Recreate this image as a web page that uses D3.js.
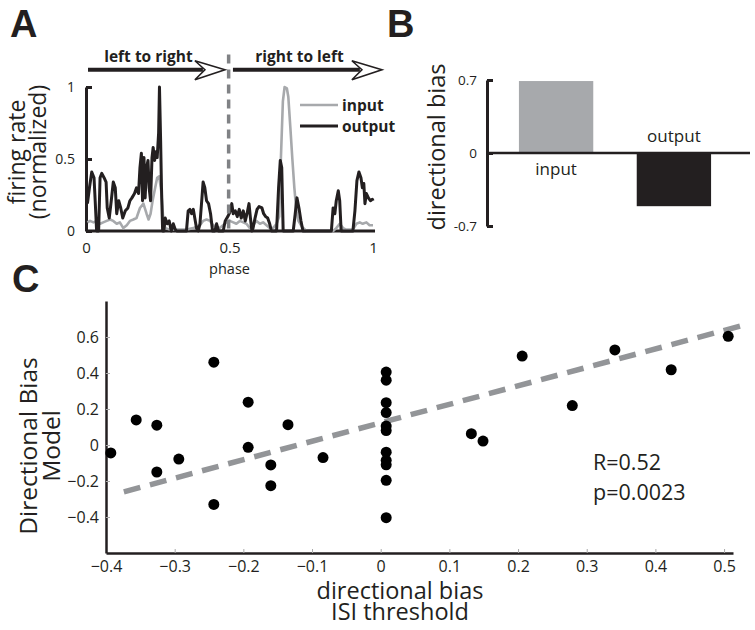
<!DOCTYPE html>
<html><head><meta charset="utf-8">
<script src="https://cdn.jsdelivr.net/npm/d3@7"></script>
<style>
body{margin:0;background:#fff;}
svg{display:block;font-family:"Open Sans",sans-serif;}
</style></head>
<body><svg id="c" width="755" height="630"></svg>
<script>
// ---------- Panel A data ----------
const phaseTicks = [0, 0.5, 1];
const rateTicks = [0, 0.5, 1];
const phaseOut = [0.005,0.012,0.020,0.028,0.032,0.037,0.044,0.049,0.055,0.063,
0.070,0.074,0.081,0.088,0.095,0.102,0.107,0.114,0.121,0.128,
0.137,0.146,0.153,0.160,0.169,0.176,0.183,0.188,0.193,0.197,
0.202,0.206,0.211,0.216,0.220,0.225,0.230,0.234,0.239,0.244,
0.248,0.253,0.256,0.260,0.263,0.267,0.271,0.276,0.283,0.290,
0.297,0.304,0.311,0.316,0.350,0.356,0.362,0.368,0.374,0.379,
0.385,0.391,0.397,0.404,0.408,0.414,0.420,0.427,0.434,0.441,
0.449,0.455,0.462,0.478,0.485,0.494,0.501,0.508,0.513,0.520,
0.527,0.534,0.541,0.548,0.555,0.561,0.568,0.573,0.578,0.582,
0.589,0.596,0.603,0.613,0.619,0.626,0.633,0.640,0.646,0.664,
0.671,0.677,0.682,0.687,0.722,0.729,0.735,0.742,0.749,0.756,
0.855,0.861,0.867,0.872,0.879,0.884,0.889,0.930,0.937,0.944,
0.951,0.958,0.963,0.968,0.972,0.977,0.984,0.991,0.998,1.0];
const outputRate = [0.19,0.30,0.41,0.37,0.21,0.0,0.0,0.37,0.40,0.37,
0.34,0.16,0.09,0.21,0.34,0.30,0.12,0.21,0.16,0.09,
0.14,0.16,0.21,0.23,0.26,0.30,0.26,0.44,0.54,0.21,
0.51,0.23,0.44,0.49,0.30,0.21,0.51,0.58,0.49,0.55,
0.51,0.68,1.00,0.63,0.30,0.00,0.00,0.09,0.05,0.07,
0.00,0.05,0.01,0.00,0.00,0.14,0.15,0.12,0.15,0.09,
0.02,0.00,0.05,0.23,0.34,0.30,0.21,0.19,0.12,0.00,
0.00,0.05,0.00,0.00,0.07,0.10,0.13,0.19,0.12,0.14,
0.10,0.15,0.09,0.14,0.07,0.12,0.19,0.09,0.00,0.02,
0.09,0.15,0.17,0.16,0.12,0.10,0.09,0.05,0.00,0.00,
0.30,0.49,0.44,0.00,0.00,0.12,0.23,0.16,0.07,0.00,
0.00,0.16,0.12,0.21,0.28,0.21,0.00,0.00,0.14,0.35,
0.41,0.37,0.30,0.33,0.19,0.26,0.23,0.21,0.22,0.21];
const phaseIn = [0.005,0.014,0.026,0.037,0.049,0.060,0.072,0.084,0.095,0.107,
0.118,0.130,0.142,0.153,0.165,0.176,0.188,0.200,0.211,0.218,
0.225,0.232,0.241,0.248,0.255,0.262,0.269,0.276,0.292,0.350,
0.374,0.397,0.408,0.420,0.432,0.443,0.466,0.490,0.501,0.513,
0.524,0.536,0.548,0.559,0.571,0.582,0.594,0.606,0.617,0.629,
0.640,0.652,0.664,0.673,0.679,0.686,0.692,0.700,0.705,0.712,
0.719,0.726,0.733,0.740,0.752,0.768,0.861,0.872,0.884,0.896,
0.907,0.930,0.942,0.954,0.964,0.977,0.988,1.0];
const inputRate = [0.06,0.07,0.06,0.07,0.05,0.06,0.07,0.08,0.07,0.05,
0.06,0.02,0.04,0.07,0.08,0.09,0.16,0.19,0.12,0.08,
0.12,0.21,0.30,0.37,0.38,0.28,0.09,0.02,0.01,0.01,
0.02,0.04,0.07,0.08,0.07,0.04,0.02,0.06,0.07,0.06,
0.05,0.07,0.06,0.05,0.02,0.04,0.07,0.05,0.06,0.04,
0.02,0.02,0.05,0.10,0.50,0.90,1.00,0.99,0.93,0.72,
0.50,0.30,0.14,0.07,0.03,0.00,0.00,0.02,0.05,0.02,
0.01,0.01,0.05,0.06,0.05,0.06,0.04,0.04];
const directionLabels = ["left to right", "right to left"];
const arrowStart = [0.007, 0.512];
const arrowEnd = [0.484, 1.031];

// ---------- Panel B data ----------
const biasCategories = ["input", "output"];
const biasValues = [0.69, -0.51];
const biasTicks = [-0.7, 0, 0.7];

// ---------- Panel C data ----------
const isiBias = [-0.393,-0.356,-0.326,-0.326,-0.294,-0.243,-0.243,-0.193,-0.193,-0.160,-0.160,-0.135,-0.084,
 0.008,0.008,0.008,0.008,0.008,0.008,0.008,0.008,0.008,0.008,0.008,
 0.132,0.149,0.206,0.279,0.341,0.423,0.506];
const modelBias = [-0.044,0.139,0.11,-0.15,-0.078,0.46,-0.33,0.238,-0.013,-0.111,-0.226,0.113,-0.07,
 0.405,0.36,0.235,0.18,0.105,0.08,-0.04,-0.085,-0.11,-0.196,-0.404,
 0.063,0.022,0.494,0.219,0.528,0.418,0.604];
const fitX = [-0.374, 0.53];
const fitY = [-0.26, 0.667];
const cXTicks = [-0.4,-0.3,-0.2,-0.1,0,0.1,0.2,0.3,0.4,0.5];
const cYTicks = [-0.4,-0.2,0,0.2,0.4,0.6];
const statsText = ["R=0.52", "p=0.0023"];
const cXTitle = ["directional bias", "ISI threshold"];
const cYTitle = ["Directional Bias", "Model"];

const INK = "#231f20", GRAY = "#a7a9ac";
const svg = d3.select("#c");
svg.append("rect").attr("width",755).attr("height",630).attr("fill","#fff");

// panel letters
[["A",10,37],["B",387,37],["C",12,292]].forEach(([t,x,y])=>{
  svg.append("text").attr("x",x).attr("y",y).text(t)
    .attr("font-family","Liberation Sans, Arial, sans-serif").attr("font-weight","bold")
    .attr("font-size",38).attr("fill",INK);
});

// ================= Panel A =================
const xA = d3.scaleLinear().domain([0,1]).range([86,373]);
const yA = d3.scaleLinear().domain([0,1]).range([231,87]);
const gA = svg.append("g");

const yAxA = gA.append("g").attr("transform",`translate(${xA(0)},0)`)
  .call(d3.axisLeft(yA).tickValues(rateTicks).tickFormat(d3.format("")).tickSizeInner(-6).tickSizeOuter(0).tickPadding(11));
yAxA.select(".domain").attr("stroke",INK).attr("stroke-width",3);
yAxA.selectAll(".tick line").attr("stroke",INK).attr("stroke-width",3);
yAxA.selectAll(".tick text").attr("font-size",14).attr("fill",INK).attr("font-family","Open Sans");
const xAxA = gA.append("g").attr("transform",`translate(0,${yA(0)})`)
  .call(d3.axisBottom(xA).tickValues(phaseTicks).tickFormat(d3.format("")).tickSize(0).tickPadding(11));
xAxA.select(".domain").remove();
xAxA.selectAll(".tick text").attr("font-size",15).attr("fill",INK).attr("font-family","Open Sans");
gA.append("line").attr("x1",xA(0)).attr("x2",xA(1.007)).attr("y1",yA(0)).attr("y2",yA(0))
  .attr("stroke",INK).attr("stroke-width",3);

const lineA = d3.line().x(d=>xA(d[0])).y(d=>yA(d[1]));
gA.append("path").datum(phaseIn.map((p,i)=>[p,inputRate[i]])).attr("d",lineA)
  .attr("fill","none").attr("stroke",GRAY).attr("stroke-width",2.6).attr("stroke-linejoin","round");
gA.append("path").datum(phaseOut.map((p,i)=>[p,outputRate[i]])).attr("d",lineA)
  .attr("fill","none").attr("stroke",INK).attr("stroke-width",3).attr("stroke-linejoin","round");

gA.append("line").attr("x1",xA(0.497)).attr("x2",xA(0.497)).attr("y1",yA(1.225)).attr("y2",yA(0))
  .attr("stroke","#808285").attr("stroke-width",3.5).attr("stroke-dasharray","9 6");

const arrowY = yA(1.12);
directionLabels.forEach((lab,i)=>{
  const x0 = xA(arrowStart[i]), x1 = xA(arrowEnd[i]);
  gA.append("line").attr("x1",x0).attr("x2",x1-22).attr("y1",arrowY).attr("y2",arrowY)
    .attr("stroke",INK).attr("stroke-width",4);
  gA.append("path")
    .attr("d",`M${x1},${arrowY} L${x1-30},${arrowY-9} L${x1-20},${arrowY} L${x1-30},${arrowY+10} Z`)
    .attr("fill","#fff").attr("stroke",INK).attr("stroke-width",1.6).attr("stroke-linejoin","miter");
  gA.append("text").attr("x",(x0+x1)/2 - 8).attr("y",arrowY-8).attr("text-anchor","middle")
    .attr("font-weight","bold").attr("font-size",15.5).attr("fill",INK).text(lab);
});

const legItems = [["input",GRAY,2.6],["output",INK,3]];
legItems.forEach(([t,c,w],i)=>{
  const ly = 105 + i*21;
  gA.append("line").attr("x1",300).attr("x2",338).attr("y1",ly).attr("y2",ly).attr("stroke",c).attr("stroke-width",w);
  gA.append("text").attr("x",342).attr("y",ly+6).attr("font-weight","bold").attr("font-size",15.5)
    .attr("fill",INK).text(t);
});

gA.append("text").attr("x",xA(0.5)).attr("y",274).attr("text-anchor","middle").attr("font-size",14.5)
  .attr("fill",INK).text("phase");
const yt = gA.append("text").attr("transform","translate(0,152) rotate(-90)").attr("text-anchor","middle")
  .attr("font-size",23).attr("fill",INK);
yt.append("tspan").attr("x",0).attr("y",25).text("firing rate");
yt.append("tspan").attr("x",0).attr("y",46).text("(normalized)");

// ================= Panel B =================
const yB = d3.scaleLinear().domain([-0.7,0.7]).range([226,80]);
const xB = d3.scaleBand().domain(biasCategories).range([487,743]).paddingInner(0.369).paddingOuter(0.271);
const gB = svg.append("g");
gB.selectAll("rect.bar").data(biasCategories).join("rect").attr("class","bar")
  .attr("x",d=>xB(d)).attr("width",xB.bandwidth())
  .attr("y",(d,i)=>yB(Math.max(0,biasValues[i])))
  .attr("height",(d,i)=>Math.abs(yB(biasValues[i])-yB(0)))
  .attr("fill",(d,i)=>i===0?GRAY:INK);
const yAxB = gB.append("g").attr("transform","translate(487,0)")
  .call(d3.axisLeft(yB).tickValues(biasTicks).tickFormat(d=>d===0?"0":(d<0?"-":"")+Math.abs(d)).tickSizeInner(-6).tickSizeOuter(0).tickPadding(10));
yAxB.select(".domain").attr("stroke",INK).attr("stroke-width",3);
yAxB.selectAll(".tick line").attr("stroke",INK).attr("stroke-width",3);
yAxB.selectAll(".tick text").attr("font-size",13.5).attr("fill",INK).attr("font-family","Open Sans");
gB.append("line").attr("x1",487).attr("x2",750).attr("y1",yB(0)).attr("y2",yB(0)).attr("stroke",INK).attr("stroke-width",2.5);
biasCategories.forEach((c,i)=>{
  gB.append("text").attr("x",xB(c)+xB.bandwidth()/2).attr("y",biasValues[i]>0?yB(0)+22:yB(0)-11)
    .attr("text-anchor","middle").attr("font-size",17).attr("fill",INK).text(c);
});
gB.append("text").attr("transform","translate(445,147) rotate(-90)").attr("text-anchor","middle")
  .attr("font-size",23.5).attr("fill",INK).text("directional bias");

// ================= Panel C =================
const xC = d3.scaleLinear().domain([-0.4,0.513]).range([106,733]);
const yC = d3.scaleLinear().domain([-0.6,0.8]).range([553,301]);
const gC = svg.append("g");
const fmtC = d=> d===0 ? "0" : d3.format(".1f")(d);
const xAxC = gC.append("g").attr("transform","translate(0,553)")
  .call(d3.axisBottom(xC).tickValues(cXTicks).tickFormat(fmtC).tickSizeInner(-4).tickSizeOuter(0).tickPadding(8));
const yAxC = gC.append("g").attr("transform","translate(106,0)")
  .call(d3.axisLeft(yC).tickValues(cYTicks).tickFormat(fmtC).tickSizeInner(-4).tickSizeOuter(0).tickPadding(7));
[xAxC,yAxC].forEach(a=>{
  a.select(".domain").attr("stroke",INK).attr("stroke-width",2.5);
  a.selectAll(".tick line").attr("stroke","#aaa").attr("stroke-width",1);
  a.selectAll(".tick text").attr("font-size",16).attr("fill",INK).attr("font-family","Open Sans");
});
gC.append("line").attr("x1",xC(fitX[0])).attr("y1",yC(fitY[0])).attr("x2",xC(fitX[1])).attr("y2",yC(fitY[1]))
  .attr("stroke","#939598").attr("stroke-width",5.5).attr("stroke-dasharray","17 10");
gC.selectAll("circle").data(isiBias).join("circle")
  .attr("cx",d=>xC(d)).attr("cy",(d,i)=>yC(modelBias[i])).attr("r",5.5).attr("fill","#000");
statsText.forEach((t,i)=>{
  gC.append("text").attr("x",593).attr("y",470+i*30).attr("font-size",21.5).attr("fill",INK).text(t);
});
cXTitle.forEach((t,i)=>{
  gC.append("text").attr("x",400).attr("y",599+i*21).attr("text-anchor","middle")
    .attr("font-size",23.5).attr("fill",INK).text(t);
});
const yt2 = gC.append("text").attr("transform","translate(0,446) rotate(-90)").attr("text-anchor","middle")
  .attr("font-size",24.5).attr("fill",INK);
cYTitle.forEach((t,i)=> yt2.append("tspan").attr("x",0).attr("y",37+i*23).text(t));
</script></body></html>
